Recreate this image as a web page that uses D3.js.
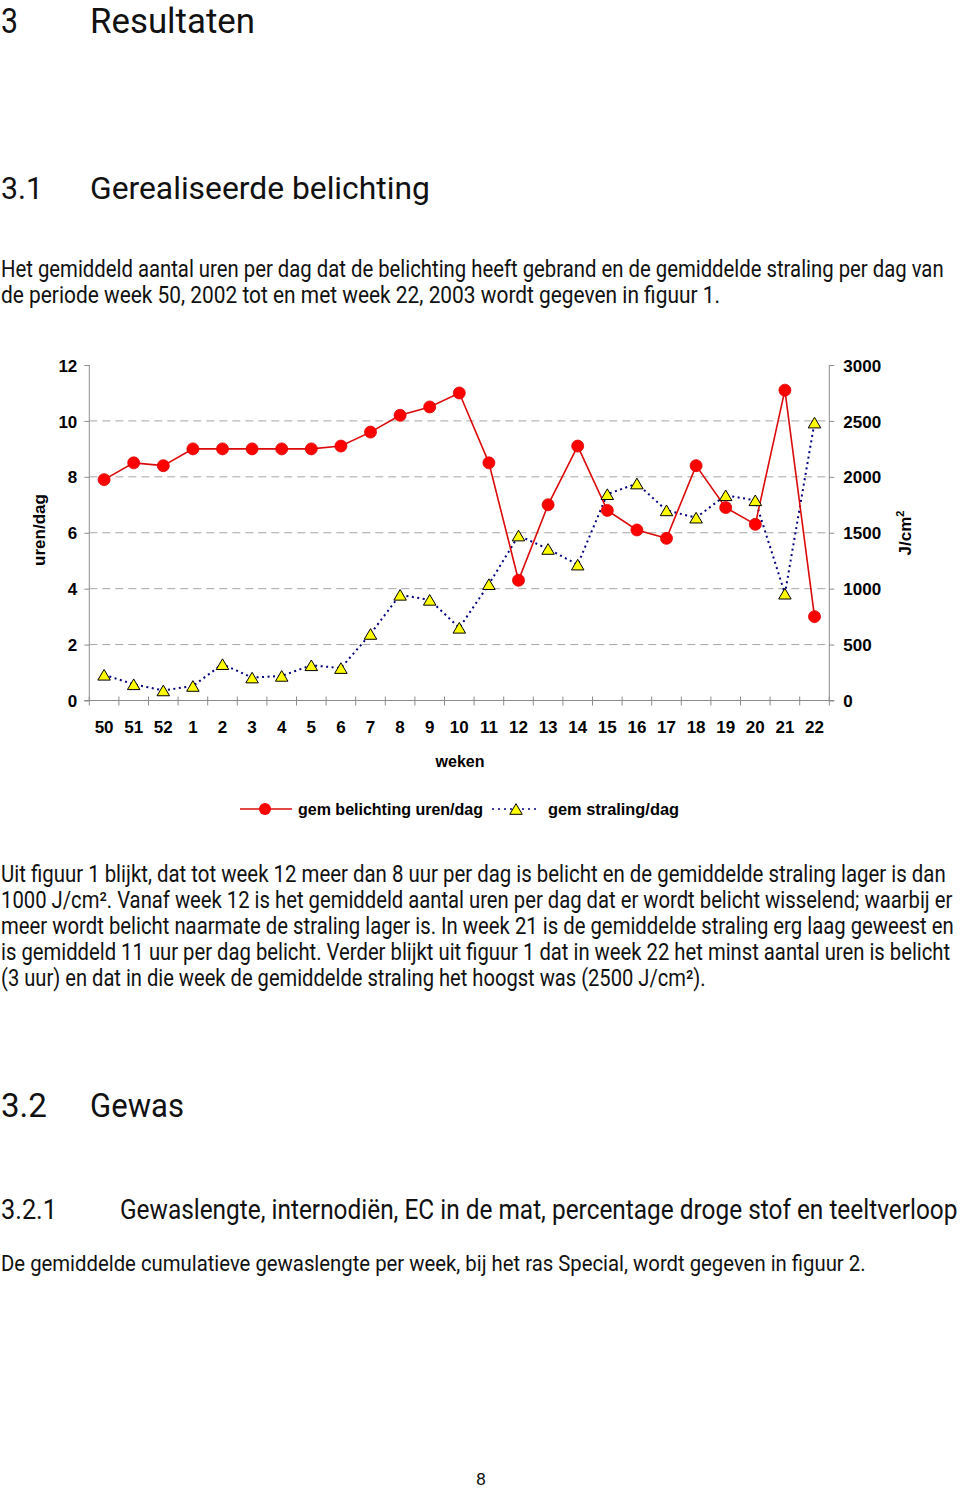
<!DOCTYPE html>
<html>
<head>
<meta charset="utf-8">
<script src="https://cdn.jsdelivr.net/npm/d3@7"></script>
<style>
  html, body { margin: 0; padding: 0; background: #fff; }
  svg { display: block; }
  .body { font-family: "Roboto", "Liberation Sans", sans-serif; fill: #111; }
  .chart text { font-family: "Liberation Sans", Arial, sans-serif; font-weight: bold; fill: #000; }
</style>
</head>
<body>
<svg id="page" width="960" height="1489"></svg>
<script>
// ---- data ----
const weeks = ["50","51","52","1","2","3","4","5","6","7","8","9","10","11","12","13","14","15","16","17","18","19","20","21","22"];
const belichting = [7.9, 8.5, 8.4, 9.0, 9.0, 9.0, 9.0, 9.0, 9.1, 9.6, 10.2, 10.5, 11.0, 8.5, 4.3, 7.0, 9.1, 6.8, 6.1, 5.8, 8.4, 6.9, 6.3, 11.1, 3.0];
const straling = [230, 145, 90, 130, 325, 205, 220, 315, 290, 595, 945, 900, 650, 1040, 1475, 1355, 1215, 1845, 1940, 1700, 1635, 1835, 1790, 955, 2485];
const leftTicks = [0, 2, 4, 6, 8, 10, 12];
const rightTicks = [0, 500, 1000, 1500, 2000, 2500, 3000];
const gridTicks = [2, 4, 6, 8, 10];
const seriesNames = ["gem belichting uren/dag", "gem straling/dag"];

// ---- page text ----
const textLines = [
  { t: "3", x: 1, y: 33, s: 35, w: 17 },
  { t: "Resultaten", x: 90, y: 33, s: 35, w: 165 },
  { t: "3.1", x: 1, y: 199, s: 32, w: 42 },
  { t: "Gerealiseerde belichting", x: 90, y: 199, s: 32, w: 340 },
  { t: "Het gemiddeld aantal uren per dag dat de belichting heeft gebrand en de gemiddelde straling per dag  van", x: 1, y: 277, s: 23, w: 943 },
  { t: "de periode week 50, 2002 tot en met week 22, 2003 wordt gegeven in figuur 1.", x: 1, y: 303, s: 23, w: 719 },
  { t: "Uit figuur 1 blijkt, dat tot week 12 meer dan 8 uur per dag is belicht en de gemiddelde straling lager is dan", x: 1, y: 882, s: 23, w: 945 },
  { t: "1000 J/cm². Vanaf week 12 is het gemiddeld aantal uren per dag dat er wordt belicht wisselend; waarbij er", x: 1, y: 908, s: 23, w: 952 },
  { t: "meer wordt belicht naarmate de straling lager is. In week 21 is de gemiddelde straling erg laag geweest en", x: 1, y: 934, s: 23, w: 953 },
  { t: "is gemiddeld 11 uur per dag belicht. Verder blijkt uit figuur 1 dat in week 22 het minst aantal uren is belicht", x: 1, y: 960, s: 23, w: 950 },
  { t: "(3 uur) en dat in die week de gemiddelde straling het hoogst was (2500 J/cm²).", x: 1, y: 986, s: 23, w: 705 },
  { t: "3.2", x: 1, y: 1117, s: 34, w: 46 },
  { t: "Gewas", x: 90, y: 1117, s: 34, w: 94 },
  { t: "3.2.1", x: 1, y: 1219, s: 28, w: 56 },
  { t: "Gewaslengte, internodiën, EC in de mat, percentage droge stof en teeltverloop", x: 120, y: 1219, s: 28, w: 838 },
  { t: "De gemiddelde cumulatieve gewaslengte per week, bij het ras Special, wordt gegeven in figuur 2.", x: 1, y: 1271, s: 23, w: 865 },
  { t: "8", x: 476, y: 1485, s: 17, w: 10 }
];

const svg = d3.select("#page");

svg.append("g").selectAll("text").data(textLines).join("text")
  .attr("class", "body")
  .attr("x", 0).attr("y", 0)
  .attr("font-size", d => d.s)
  .text(d => d.t)
  .each(function (d) {
    const nat = this.getComputedTextLength() || d.w;
    const k = d.w / nat;
    d3.select(this).attr("transform", `translate(${d.x},${d.y}) scale(${k},1)`);
  });

// ---- chart ----
const plot = { left: 89.3, right: 829.3, top: 365, bottom: 700.5 };
const chart = svg.append("g").attr("class", "chart");

const x = d3.scaleBand().domain(weeks).range([plot.left, plot.right]).padding(0);
const cx = w => x(w) + x.bandwidth() / 2;
const yL = d3.scaleLinear().domain([0, 12]).range([plot.bottom, plot.top]);
const yR = d3.scaleLinear().domain([0, 3000]).range([plot.bottom, plot.top]);

const axisColor = "#8c8c8c";

// gridlines
chart.append("g").selectAll("line").data(gridTicks).join("line")
  .attr("x1", plot.left).attr("x2", plot.right)
  .attr("y1", d => yL(d)).attr("y2", d => yL(d))
  .attr("stroke", "#a6a6a6").attr("stroke-width", 1)
  .attr("stroke-dasharray", "8,5");

// left axis
const gL = chart.append("g").attr("transform", `translate(${plot.left},0)`)
  .call(d3.axisLeft(yL).tickValues(leftTicks).tickFormat(d3.format("d")).tickSize(5).tickPadding(7));
// right axis
const gR = chart.append("g").attr("transform", `translate(${plot.right},0)`)
  .call(d3.axisRight(yR).tickValues(rightTicks).tickFormat(d3.format("d")).tickSize(5).tickPadding(9));
[gL, gR].forEach(g => {
  g.select(".domain").attr("stroke", axisColor).attr("d", `M0,${plot.top}V${plot.bottom}`);
  g.selectAll(".tick line").attr("stroke", axisColor);
  g.selectAll(".tick text").attr("font-size", 17).attr("font-family", "Liberation Sans, Arial, sans-serif").attr("font-weight", "bold").attr("fill", "#000").attr("dy", "0.36em");
  g.attr("font-family", null).attr("font-size", null);
});

// x axis line
chart.append("line")
  .attr("x1", plot.left - 5).attr("x2", plot.right + 5)
  .attr("y1", plot.bottom).attr("y2", plot.bottom)
  .attr("stroke", axisColor);
// x ticks at band boundaries
const boundaries = weeks.map(w => x(w)).concat([x.range()[1]]);
chart.append("g").selectAll("line").data(boundaries).join("line")
  .attr("x1", d => d).attr("x2", d => d)
  .attr("y1", plot.bottom - 4).attr("y2", plot.bottom + 5)
  .attr("stroke", axisColor);
// x labels
chart.append("g").selectAll("text").data(weeks).join("text")
  .attr("x", d => cx(d)).attr("y", 733)
  .attr("text-anchor", "middle").attr("font-size", 17)
  .text(d => d);

// axis titles
chart.append("text").attr("x", 460).attr("y", 767).attr("text-anchor", "middle").attr("font-size", 16).text("weken");
chart.append("text").attr("transform", "translate(45,530) rotate(-90)").attr("text-anchor", "middle").attr("font-size", 17).text("uren/dag");
const jt = chart.append("text").attr("transform", "translate(911,533) rotate(-90)").attr("text-anchor", "middle").attr("font-size", 17);
jt.append("tspan").text("J/cm");
jt.append("tspan").attr("font-size", 11).attr("dy", -7).text("2");

// triangle symbol centered on its bounding box
const triSym = {
  draw(ctx, size) {
    const w = Math.sqrt(size * 2.3);
    const h = w * 0.85;
    ctx.moveTo(0, -h / 2);
    ctx.lineTo(w / 2, h / 2);
    ctx.lineTo(-w / 2, h / 2);
    ctx.closePath();
  }
};

// straling series (right axis)
const lineR = d3.line().x((d, i) => cx(weeks[i])).y(d => yR(d));
chart.append("path").datum(straling)
  .attr("d", lineR).attr("fill", "none")
  .attr("stroke", "#000080").attr("stroke-width", 2)
  .attr("stroke-dasharray", "2,3.5");

// belichting series (left axis)
const lineL = d3.line().x((d, i) => cx(weeks[i])).y(d => yL(d));
chart.append("path").datum(belichting)
  .attr("d", lineL).attr("fill", "none")
  .attr("stroke", "#dc0a0a").attr("stroke-width", 1.6);

chart.append("g").selectAll("path").data(straling).join("path")
  .attr("transform", (d, i) => `translate(${cx(weeks[i])},${yR(d)})`)
  .attr("d", d3.symbol(triSym, 68))
  .attr("fill", "#ffff00").attr("stroke", "#000").attr("stroke-width", 1);

chart.append("g").selectAll("circle").data(belichting).join("circle")
  .attr("cx", (d, i) => cx(weeks[i])).attr("cy", d => yL(d))
  .attr("r", 6).attr("fill", "#ff0000").attr("stroke", "#e00000").attr("stroke-width", 0.8);

// legend
const lg = chart.append("g");
lg.append("line").attr("x1", 240).attr("x2", 292).attr("y1", 809).attr("y2", 809).attr("stroke", "#dc0a0a").attr("stroke-width", 1.6);
lg.append("circle").attr("cx", 265).attr("cy", 809).attr("r", 6).attr("fill", "#ff0000");
lg.append("text").attr("x", 298).attr("y", 815).attr("font-size", 16).attr("textLength", 185).attr("lengthAdjust", "spacingAndGlyphs").text(seriesNames[0]);
lg.append("line").attr("x1", 492).attr("x2", 540).attr("y1", 809).attr("y2", 809).attr("stroke", "#000080").attr("stroke-width", 1.5).attr("stroke-dasharray", "2,4");
lg.append("path").attr("transform", "translate(516,809)").attr("d", d3.symbol(triSym, 68)).attr("fill", "#ffff00").attr("stroke", "#000");
lg.append("text").attr("x", 548).attr("y", 815).attr("font-size", 16).attr("textLength", 131).attr("lengthAdjust", "spacingAndGlyphs").text(seriesNames[1]);
</script>
</body>
</html>
